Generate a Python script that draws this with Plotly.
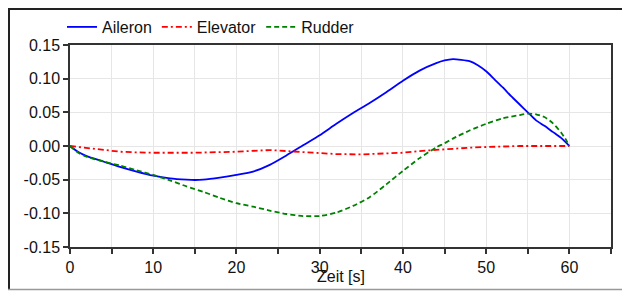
import plotly.graph_objects as go

# ---- data ----
t_aileron = [0, 1, 2, 4, 6, 8, 10, 12, 14, 15, 16, 18, 20, 22, 24, 26, 28, 30, 32, 34, 36, 38, 40, 42, 44, 45, 46, 47, 48, 49, 50, 51, 52, 53, 54, 55, 56, 57, 58, 59, 60]
v_aileron = [0, -0.009, -0.015, -0.023, -0.031, -0.038, -0.044, -0.048, -0.050, -0.0505, -0.050, -0.047, -0.043, -0.038, -0.028, -0.014, 0.001, 0.016, 0.033, 0.049, 0.064, 0.080, 0.097, 0.112, 0.123, 0.127, 0.129, 0.128, 0.126, 0.120, 0.111, 0.099, 0.087, 0.074, 0.062, 0.050, 0.038, 0.030, 0.021, 0.012, 0.0]

t_elevator = [0, 2, 4, 6, 8, 10, 15, 20, 24, 26, 28, 30, 32, 35, 38, 40, 42, 44, 46, 48, 50, 52, 54, 60]
v_elevator = [0, -0.003, -0.006, -0.0085, -0.0095, -0.010, -0.010, -0.0085, -0.006, -0.0075, -0.009, -0.0105, -0.012, -0.0125, -0.0115, -0.010, -0.0075, -0.0055, -0.004, -0.0025, -0.0015, -0.0005, 0.0, 0.0]

t_rudder = [0, 1, 2, 4, 6, 8, 10, 12, 14, 16, 18, 20, 22, 24, 26, 28, 30, 32, 34, 36, 38, 40, 42, 44, 45, 46, 48, 50, 52, 54, 55, 56, 57, 58, 59, 59.5, 60]
v_rudder = [0, -0.010, -0.016, -0.023, -0.029, -0.036, -0.043, -0.051, -0.060, -0.068, -0.077, -0.085, -0.090, -0.096, -0.101, -0.104, -0.104, -0.099, -0.089, -0.076, -0.057, -0.037, -0.018, -0.002, 0.004, 0.011, 0.023, 0.033, 0.041, 0.046, 0.048, 0.047, 0.043, 0.034, 0.020, 0.011, 0.0]

x_tickvals = [0, 5, 10, 15, 20, 25, 30, 35, 40, 45, 50, 55, 60, 65]
x_ticktext = ["0", "", "10", "", "20", "", "30", "", "40", "", "50", "", "60", ""]
y_tickvals = [-0.15, -0.10, -0.05, 0.00, 0.05, 0.10, 0.15]
y_ticktext = ["-0.15", "-0.10", "-0.05", "0.00", "0.05", "0.10", "0.15"]

FONT = "Liberation Sans, Arial, sans-serif"

fig = go.Figure()
fig.add_trace(go.Scatter(x=t_aileron, y=v_aileron, mode="lines", name="Aileron",
                         line=dict(color="#0000FF", width=1.8, shape="spline", smoothing=0.6)))
fig.add_trace(go.Scatter(x=t_elevator, y=v_elevator, mode="lines", name="Elevator",
                         line=dict(color="#FF0000", width=1.8, dash="6px,3px,2px,3px")))
fig.add_trace(go.Scatter(x=t_rudder, y=v_rudder, mode="lines", name="Rudder",
                         line=dict(color="#008000", width=1.8, dash="5px,3px", shape="spline", smoothing=0.6)))

# the page body has an 8px margin; the figure therefore starts at (8, 8)
OFF = 8
W, H = 630 - OFF, 291 - OFF
# plot area in page pixels: left 70, right 611, top 45, bottom 247
ml, mr, mt, mb = 70 - OFF, 630 - 611, 45 - OFF, 291 - 247
pw, ph = W - ml - mr, H - mt - mb

def px_x(p):
    return (p - OFF - ml) / pw

def px_y(p):
    return (H - mb - (p - OFF)) / ph

fig.update_layout(
    width=W, height=H,
    margin=dict(l=ml, r=mr, t=mt, b=mb, pad=0, autoexpand=False),
    paper_bgcolor="white", plot_bgcolor="white",
    font=dict(family=FONT, size=16, color="#111111"),
    showlegend=True,
    legend=dict(orientation="h", x=px_x(62), xanchor="left", y=px_y(27), yanchor="middle",
                font=dict(size=16), itemwidth=30, bgcolor="rgba(0,0,0,0)",
                tracegroupgap=0),
    xaxis=dict(range=[0, 65], tickmode="array", tickvals=x_tickvals, ticktext=x_ticktext,
               showgrid=True, gridcolor="#e6e6e6", gridwidth=1, zeroline=False,
               showline=True, linecolor="#333333", linewidth=1.5, mirror=True,
               ticks="outside", ticklen=5, tickcolor="#333333", tickwidth=1.5,
               tickfont=dict(size=16)),
    yaxis=dict(range=[-0.15, 0.15], tickmode="array", tickvals=y_tickvals, ticktext=y_ticktext,
               showgrid=True, gridcolor="#e6e6e6", gridwidth=1, zeroline=False,
               showline=True, linecolor="#333333", linewidth=1.5, mirror=True,
               ticks="outside", ticklen=5, tickcolor="#333333", tickwidth=1.5,
               tickfont=dict(size=16)),
    annotations=[dict(text="Zeit [s]", xref="paper", yref="paper", x=0.5, y=px_y(276),
                      xanchor="center", yanchor="middle", showarrow=False,
                      font=dict(size=16, family=FONT, color="#111111"))],
    shapes=[
        dict(type="line", xref="paper", yref="paper", x0=px_x(8), x1=px_x(640), y0=px_y(9), y1=px_y(9),
             line=dict(color="#222222", width=2)),
        dict(type="line", xref="paper", yref="paper", x0=px_x(9), x1=px_x(9), y0=px_y(8), y1=px_y(290),
             line=dict(color="#222222", width=2)),
        dict(type="line", xref="paper", yref="paper", x0=px_x(8), x1=px_x(640), y0=px_y(289.5), y1=px_y(289.5),
             line=dict(color="#999999", width=1.5)),
    ],
)

fig.write_html("out.html")
